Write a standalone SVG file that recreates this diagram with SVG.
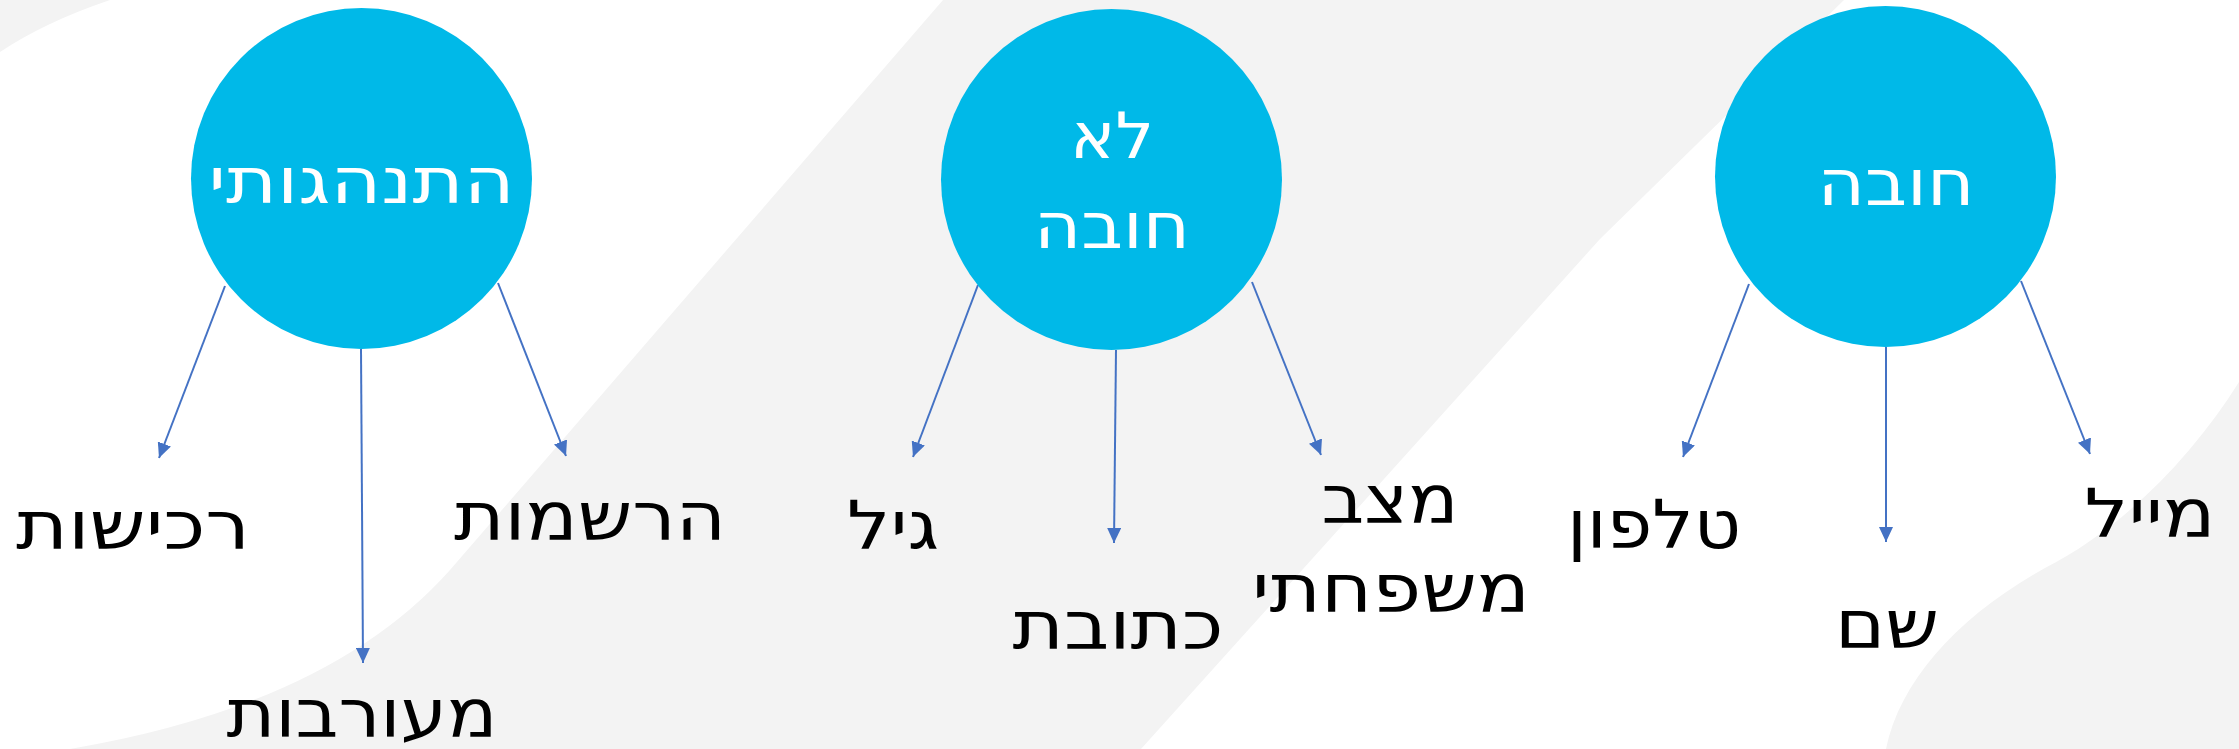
<svg xmlns="http://www.w3.org/2000/svg" width="2239" height="749" viewBox="0 0 2239 749">
  <defs>
    <style>
      .bg { fill: #f3f3f3; }
      .node circle { fill: #00b9e8; }
      .ntext { font-family: "DejaVu Sans", sans-serif; font-size: 64px; fill: #ffffff; text-anchor: middle; }
      .label { font-family: "DejaVu Sans", sans-serif; font-size: 67px; fill: #000000; text-anchor: middle; }
      .conn line { stroke: #4472c4; stroke-width: 2; fill: none; marker-end: url(#arrow); }
    </style>
    <marker id="arrow" markerUnits="userSpaceOnUse" markerWidth="16" markerHeight="14" refX="15" refY="7" orient="auto">
      <path d="M0,0 L15,7 L0,14 Z" fill="#4472c4"/>
    </marker>
  </defs>

  <rect x="0" y="0" width="2239" height="749" fill="#ffffff"/>
  <g id="background">
    <path class="bg" d="M0,0 L110,0 Q45,22 0,52 Z"/>
    <path class="bg" d="M943,0 L1844,0 L1600,239 L1141,749 L70,749 Q330,705 450,570 Z"/>
    <path class="bg" d="M2239,382 C2190,460 2120,530 2045,568 C1960,615 1900,680 1886,749 L2239,749 Z"/>
  </g>

  <g id="connectors" class="conn">
    <line x1="225" y1="286" x2="159" y2="458"/>
    <line x1="361" y1="349" x2="363" y2="663"/>
    <line x1="498" y1="283" x2="566" y2="456"/>
    <line x1="978" y1="285" x2="913" y2="457"/>
    <line x1="1116" y1="350" x2="1114" y2="543"/>
    <line x1="1252" y1="282" x2="1321" y2="455"/>
    <line x1="1749" y1="284" x2="1683" y2="457"/>
    <line x1="1886" y1="347" x2="1886" y2="542"/>
    <line x1="2021" y1="281" x2="2090" y2="454"/>
  </g>

  <g id="node-behavioral" class="node">
    <circle cx="361.5" cy="178.5" r="170.5"/>
    <text class="ntext" x="361.5" y="203" textLength="306" lengthAdjust="spacingAndGlyphs">התנהגותי</text>
  </g>
  <g id="node-optional" class="node">
    <circle cx="1111.5" cy="179.5" r="170.5"/>
    <text class="ntext" x="1112" y="158" textLength="84" lengthAdjust="spacingAndGlyphs">לא</text>
    <text class="ntext" x="1112" y="248" textLength="156" lengthAdjust="spacingAndGlyphs">חובה</text>
  </g>
  <g id="node-required" class="node">
    <circle cx="1885.5" cy="176.5" r="170.5"/>
    <text class="ntext" x="1896" y="205" textLength="157" lengthAdjust="spacingAndGlyphs">חובה</text>
  </g>

  <g id="label-purchases"><text class="label" x="133" y="549" textLength="234" lengthAdjust="spacingAndGlyphs">רכישות</text></g>
  <g id="label-involvement"><text class="label" x="362" y="737" textLength="271" lengthAdjust="spacingAndGlyphs">מעורבות</text></g>
  <g id="label-registrations"><text class="label" x="590" y="540" textLength="272" lengthAdjust="spacingAndGlyphs">הרשמות</text></g>
  <g id="label-age"><text class="label" x="893" y="549" textLength="92" lengthAdjust="spacingAndGlyphs">גיל</text></g>
  <g id="label-address"><text class="label" x="1118" y="649" textLength="211" lengthAdjust="spacingAndGlyphs">כתובת</text></g>
  <g id="label-marital">
    <text class="label" x="1390" y="523" textLength="137" lengthAdjust="spacingAndGlyphs">מצב</text>
    <text class="label" x="1391" y="612" textLength="278" lengthAdjust="spacingAndGlyphs">משפחתי</text>
  </g>
  <g id="label-phone"><text class="label" x="1654" y="548" textLength="174" lengthAdjust="spacingAndGlyphs">טלפון</text></g>
  <g id="label-name"><text class="label" x="1887" y="648" textLength="104" lengthAdjust="spacingAndGlyphs">שם</text></g>
  <g id="label-mail"><text class="label" x="2150" y="537" textLength="131" lengthAdjust="spacingAndGlyphs">מייל</text></g>
</svg>
